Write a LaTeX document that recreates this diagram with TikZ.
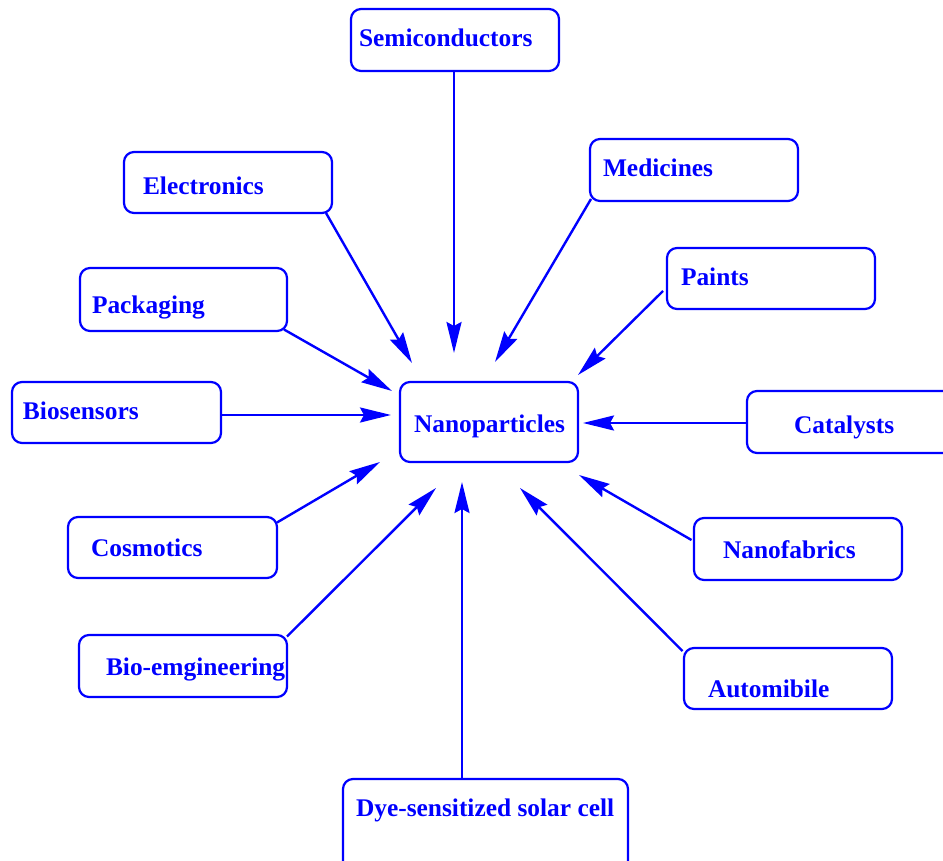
\documentclass[tikz,border=0pt]{standalone}
\usepackage{fontspec}
\setmainfont{Liberation Serif}
\usepackage{tikz}
\usetikzlibrary{arrows.meta}

\begin{document}
\begin{tikzpicture}[x=1pt,y=-1pt,
  appbox/.style={draw=blue,line width=2.2pt,rounded corners=10pt,anchor=north west,
    inner ysep=0pt,outer sep=0pt,text=blue,font=\fontsize{25.4}{30}\selectfont\bfseries},
  feed/.style={draw=blue,line width=2.4pt,-{Stealth[length=31pt,width=15pt,inset=4pt]}}]
\useasboundingbox (0,0) rectangle (943,861);
% boxes: name/left/top/right/bottom/text left/baseline/label
\foreach \n/\l/\t/\r/\b/\tx/\by/\s in {
  semi/351/9/559/71/359/47/Semiconductors,
  elec/124/152/332/213/143/195/Electronics,
  med/590/139/798/201/603/177/Medicines,
  paint/667/248/875/309/681/286/Paints,
  pack/80/268/287/331/92/313/Packaging,
  bios/12/382/221/443/23/419/Biosensors,
  nano/400/382/578/462/414/432/Nanoparticles,
  cat/747/391/960/453/794/433/Catalysts,
  cosm/68/517/277/578/91/556/Cosmotics,
  nanof/694/518/902/580/723/558/Nanofabrics,
  bioe/79/635/287/697/106/675/Bio-emgineering,
  auto/684/648/892/709/708/697/Automibile,
  dye/343/779/628/880/356/816/Dye-sensitized solar cell}{
  \pgfmathsetmacro\padx{\tx-\l}
  \pgfmathsetmacro\tw{\r-\l-2*\padx}
  \pgfmathsetmacro\th{\by-\t}
  \pgfmathsetmacro\td{\b-\by}
  \node[appbox,inner xsep=\padx pt,text height=\th pt,text depth=\td pt] (\n) at (\l,\t)
    {\makebox[\tw pt][l]{\s}};
}
% arrow tips round the centre box
\foreach \n/\x/\y in {tsemi/454/353,telec/412/363,tmed/495/362,tpaint/578/375,
  tpack/392/391,tbios/391/415,tcat/583/423,tcosm/380/462,tnanof/579/475,
  tbioe/436/488,tauto/520/488,tdye/462/482}
  \coordinate (\n) at (\x,\y);
\draw[feed] ([xshift=-1pt]semi.south) -- (tsemi);
\draw[feed] ([xshift=-6pt]elec.south east) -- (telec);
\draw[feed] ([xshift=1pt,yshift=2pt]med.south west) -- (tmed);
\draw[feed] ([xshift=-4pt,yshift=-12.5pt]paint.west) -- (tpaint);
\draw[feed] ([xshift=-3pt,yshift=1.5pt]pack.south east) -- (tpack);
\draw[feed] ([yshift=-2.5pt]bios.east) -- (tbios);
\draw[feed] ([yshift=-1pt]cat.west) -- (tcat);
\draw[feed] ([yshift=-5.5pt]cosm.north east) -- (tcosm);
\draw[feed] ([xshift=-2.5pt,yshift=9pt]nanof.west) -- (tnanof);
\draw[feed] ([yshift=-1.5pt]bioe.north east) -- (tbioe);
\draw[feed] ([xshift=-1.5pt,yshift=-3pt]auto.north west) -- (tauto);
\draw[feed] ([xshift=-23.5pt]dye.north) -- (tdye);
\end{tikzpicture}
\end{document}
